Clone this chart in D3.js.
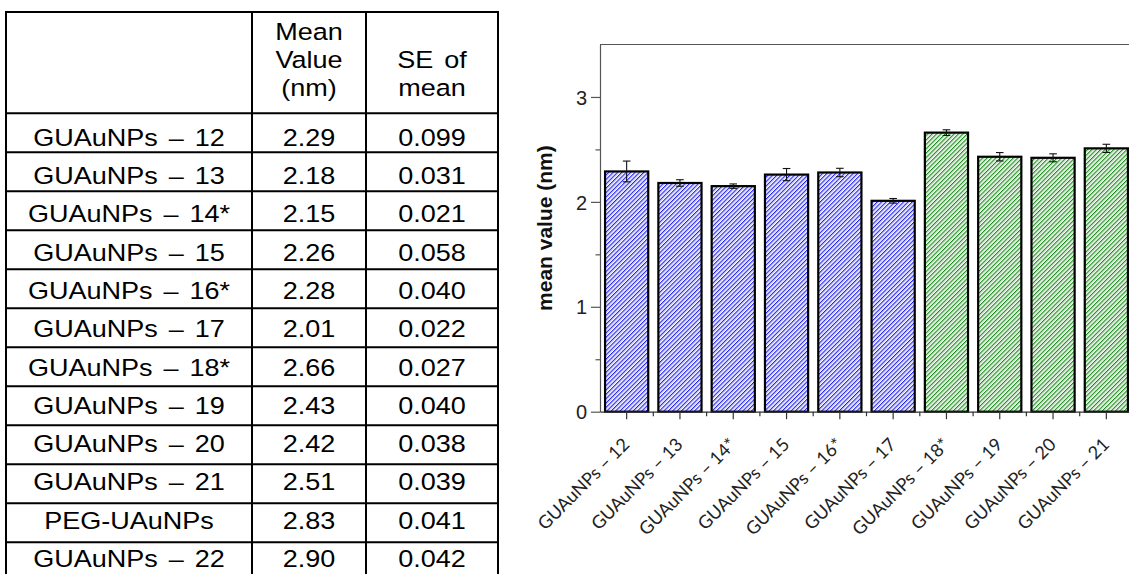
<!DOCTYPE html>
<html>
<head>
<meta charset="utf-8">
<script src="https://cdn.jsdelivr.net/npm/d3@7"></script>
<style>
  html, body { margin: 0; padding: 0; background: #ffffff; }
  svg { display: block; }
</style>
</head>
<body>
<script>
// ---------------- DATA ----------------
const tableHeaderMean = ["Mean", "Value", "(nm)"];
const tableHeaderSE = ["SE of", "mean"];
const tableLabels = ["GUAuNPs – 12", "GUAuNPs – 13", "GUAuNPs – 14*", "GUAuNPs – 15",
  "GUAuNPs – 16*", "GUAuNPs – 17", "GUAuNPs – 18*", "GUAuNPs – 19", "GUAuNPs – 20",
  "GUAuNPs – 21", "PEG-UAuNPs", "GUAuNPs – 22"];
const tableMeans = [2.29, 2.18, 2.15, 2.26, 2.28, 2.01, 2.66, 2.43, 2.42, 2.51, 2.83, 2.90];
const tableSE = [0.099, 0.031, 0.021, 0.058, 0.040, 0.022, 0.027, 0.040, 0.038, 0.039, 0.041, 0.042];

const categories = ["GUAuNPs – 12", "GUAuNPs – 13", "GUAuNPs – 14*", "GUAuNPs – 15",
  "GUAuNPs – 16*", "GUAuNPs – 17", "GUAuNPs – 18*", "GUAuNPs – 19", "GUAuNPs – 20", "GUAuNPs – 21"];
const meanValues = [2.29, 2.18, 2.15, 2.26, 2.28, 2.01, 2.66, 2.43, 2.42, 2.51];
const seValues = [0.099, 0.031, 0.021, 0.058, 0.040, 0.022, 0.027, 0.040, 0.038, 0.039];
const barGroup = ["blue", "blue", "blue", "blue", "blue", "blue", "green", "green", "green", "green"];
const yMajorTicks = [0, 1, 2, 3];
const yMinorTicks = [0.5, 1.5, 2.5];
const yLabel = "mean value (nm)";

// ---------------- SETUP ----------------
const W = 1129, H = 574;
const svg = d3.select("body").append("svg").attr("width", W).attr("height", H);
svg.append("rect").attr("width", W).attr("height", H).attr("fill", "#fff");

const defs = svg.append("defs");
function hatch(id, dark, light) {
  const p = defs.append("pattern").attr("id", id)
    .attr("patternUnits", "userSpaceOnUse")
    .attr("width", 3.1).attr("height", 10)
    .attr("patternTransform", "rotate(45)");
  p.append("rect").attr("width", 3.1).attr("height", 10).attr("fill", "#ffffff");
  p.append("rect").attr("x", 0).attr("width", 0.9).attr("height", 10).attr("fill", dark);
  p.append("rect").attr("x", 0.9).attr("width", 1.0).attr("height", 10).attr("fill", light);
}
hatch("hatchBlue", "#1c1cf0", "#a4a4f6");
hatch("hatchGreen", "#128a12", "#a0cca0");

// ---------------- TABLE ----------------
const tableFont = "'Liberation Sans', Arial, sans-serif";
const colEdges = [6, 252, 366, 498];
const colCenters = [129, 309, 432];
const tTop = 12, headBottom = 113.3, rowH = 39.0;
const textTop = 145.7, textStep = 38.3;
const nRows = tableLabels.length;
const rowTops = d3.range(nRows + 1).map(i => headBottom + i * rowH);

const tbl = svg.append("g");
const hLines = [tTop, ...rowTops];
tbl.selectAll("line.h").data(hLines).enter().append("line")
  .attr("x1", colEdges[0] - 1).attr("x2", colEdges[3] + 1)
  .attr("y1", d => d).attr("y2", d => d)
  .attr("stroke", "#000").attr("stroke-width", 2);
tbl.selectAll("line.v").data(colEdges).enter().append("line")
  .attr("x1", d => d).attr("x2", d => d)
  .attr("y1", tTop - 1).attr("y2", H + 20)
  .attr("stroke", "#000").attr("stroke-width", 2);

const sx = 1.15;
function ttext(txt, cx, by) {
  tbl.append("text")
    .attr("transform", `translate(${cx},${by}) scale(${sx},1)`)
    .attr("text-anchor", "middle")
    .attr("font-family", tableFont).attr("font-size", 23.5)
    .attr("fill", "#000")
    .attr("word-spacing", 3)
    .text(txt);
}
const meanHeadBase = [40, 68, 96];
tableHeaderMean.forEach((t, i) => ttext(t, colCenters[1], meanHeadBase[i]));
const seHeadBase = [68, 96];
tableHeaderSE.forEach((t, i) => ttext(t, colCenters[2], seHeadBase[i]));

tableLabels.forEach((lab, i) => {
  const by = textTop + i * textStep;
  ttext(lab, colCenters[0], by);
  ttext(d3.format(".2f")(tableMeans[i]), colCenters[1], by);
  ttext(d3.format(".3f")(tableSE[i]), colCenters[2], by);
});

// ---------------- CHART ----------------
const x = d3.scaleBand().domain(categories).range([600, 1133])
  .paddingInner(0.19).paddingOuter(0.095);
const y = d3.scaleLinear().domain([0, 3.5]).range([411.7, 44.5]);

const chart = svg.append("g");
const axisColor = "#555";

// frame top line
chart.append("line")
  .attr("x1", x.range()[0]).attr("x2", x.range()[1])
  .attr("y1", y(3.5)).attr("y2", y(3.5))
  .attr("stroke", axisColor).attr("stroke-width", 1.2);

// bars
const bars = categories.map((c, i) => ({ c, m: meanValues[i], se: seValues[i], g: barGroup[i] }));
chart.selectAll("rect.bar").data(bars).enter().append("rect")
  .attr("x", d => x(d.c)).attr("width", x.bandwidth())
  .attr("y", d => y(d.m)).attr("height", d => y(0) - y(d.m))
  .attr("fill", d => d.g === "blue" ? "url(#hatchBlue)" : "url(#hatchGreen)")
  .attr("stroke", "#000").attr("stroke-width", 2.2);

// error bars
const eb = chart.selectAll("g.err").data(bars).enter().append("g")
  .attr("stroke", "#111").attr("stroke-width", 1.1);
eb.append("line")
  .attr("x1", d => x(d.c) + x.bandwidth() / 2).attr("x2", d => x(d.c) + x.bandwidth() / 2)
  .attr("y1", d => y(d.m - d.se)).attr("y2", d => y(d.m + d.se));
eb.append("line")
  .attr("x1", d => x(d.c) + x.bandwidth() / 2 - 3.8).attr("x2", d => x(d.c) + x.bandwidth() / 2 + 3.8)
  .attr("y1", d => y(d.m + d.se)).attr("y2", d => y(d.m + d.se));
eb.append("line")
  .attr("x1", d => x(d.c) + x.bandwidth() / 2 - 3.8).attr("x2", d => x(d.c) + x.bandwidth() / 2 + 3.8)
  .attr("y1", d => y(d.m - d.se)).attr("y2", d => y(d.m - d.se));

// y axis
const yAx = chart.append("g").attr("transform", `translate(${x.range()[0]},0)`)
  .call(d3.axisLeft(y).tickValues(yMajorTicks).tickSize(9).tickSizeOuter(0).tickPadding(4)
    .tickFormat(d3.format("d")));
yAx.select(".domain").attr("stroke", axisColor).attr("stroke-width", 1.2);
yAx.selectAll(".tick line").attr("stroke", axisColor).attr("stroke-width", 1.2);
yAx.selectAll(".tick text").attr("font-family", tableFont).attr("font-size", 20)
  .attr("fill", "#222").attr("dy", "0.36em");
const yMin = chart.append("g").attr("transform", `translate(${x.range()[0]},0)`)
  .call(d3.axisLeft(y).tickValues(yMinorTicks).tickSize(4.5).tickFormat(""));
yMin.select(".domain").remove();
yMin.selectAll(".tick line").attr("stroke", axisColor).attr("stroke-width", 1.2);

// x axis
const xAx = chart.append("g").attr("transform", `translate(0,${y(0)})`)
  .call(d3.axisBottom(x).tickSize(7.5).tickSizeOuter(0).tickFormat(""));
xAx.select(".domain").attr("stroke", "#333").attr("stroke-width", 1.3);
xAx.selectAll(".tick line").attr("stroke", "#333").attr("stroke-width", 1.2);
// minor ticks at band boundaries
const bounds = categories.slice(1).map(c => x(c) + x.bandwidth() / 2 - x.step() / 2);
chart.selectAll("line.xminor").data(bounds).enter().append("line")
  .attr("x1", d => d).attr("x2", d => d)
  .attr("y1", y(0)).attr("y2", y(0) + 4.5)
  .attr("stroke", "#333").attr("stroke-width", 1.2);

// x labels
chart.selectAll("text.xl").data(categories).enter().append("text")
  .attr("transform", d => `translate(${x(d) + x.bandwidth() / 2 + 4},${y(0) + 34}) rotate(-45)`)
  .attr("text-anchor", "end")
  .attr("font-family", "Lato, 'Open Sans', sans-serif").attr("font-size", 18)
  .attr("fill", "#222")
  .text(d => d);

// y label
chart.append("text")
  .attr("transform", `translate(552,${y(1.75)}) rotate(-90)`)
  .attr("text-anchor", "middle")
  .attr("font-family", tableFont).attr("font-weight", "bold").attr("font-size", 21)
  .attr("fill", "#111")
  .text(yLabel);
</script>
</body>
</html>
